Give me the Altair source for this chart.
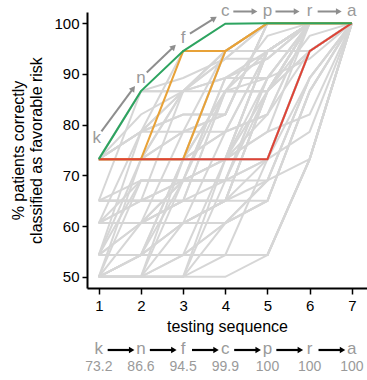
import math
import altair as alt
import pandas as pd

# testing positions and the cumulative % correctly classified along each ordering
steps = [1, 2, 3, 4, 5, 6, 7]

A, B, C, D, E = 50, 54.3, 60.6, 65, 69
K, L, M, N, O, P, Q, R, Z = 73.2, 78.6, 82, 86.6, 89.2, 93, 94.5, 97.5, 100

grey_paths = [
    [A, A, A, A, B, K, Z], [A, A, A, B, B, K, Z], [A, A, B, B, B, K, Z],
    [A, B, B, B, B, K, Z], [A, A, E, E, N, Q, Z], [A, E, E, N, Q, Z, Z],
    [A, A, A, E, K, Q, Z], [A, A, C, D, N, Z, Z], [A, C, D, D, N, Z, Z],
    [A, A, A, C, D, N, Z], [A, K, K, Q, Z, Z, Z], [A, A, K, Q, Q, Z, Z],
    [A, A, A, K, K, Q, Z], [A, B, K, K, Q, Z, Z],
    [A, B, C, D, K, Q, Z], [A, A, B, C, E, O, Z], [A, B, B, C, D, N, Z],
    [B, B, B, B, B, K, Z], [B, K, K, K, Q, Z, Z], [B, B, K, K, K, Q, Z],
    [B, B, B, K, Q, Z, Z], [B, B, B, B, K, Q, Z], [B, C, D, N, N, Z, Z],
    [B, B, C, D, N, Q, Z], [B, E, E, O, Q, Z, Z], [B, B, E, K, O, Z, Z],
    [B, L, N, Q, Z, Z, Z], [B, C, E, K, Q, Z, Z], [B, B, C, C, E, K, Z],
    [C, C, C, C, D, N, Z], [C, D, D, D, N, Z, Z], [C, C, D, N, N, Z, Z],
    [C, L, M, M, Z, Z, Z], [C, C, L, M, Z, Z, Z], [C, C, C, L, M, Z, Z],
    [C, E, E, E, O, Z, Z], [C, C, E, E, E, O, Z], [C, C, C, D, E, O, Z],
    [C, D, E, K, N, Z, Z],
    [D, D, D, D, D, N, Z], [D, N, N, P, Z, Z, Z], [D, D, N, P, P, Z, Z],
    [D, E, E, O, P, Z, Z], [D, D, D, E, O, P, Z], [D, D, E, E, K, O, Z],
    [K, L, L, Q, Z, Z, Z], [K, L, M, M, Z, Z, Z], [K, K, L, M, Z, Z, Z],
    [K, K, L, L, Q, Z, Z], [K, M, N, O, O, Z, Z], [K, N, O, P, Z, Z, Z],
    [K, K, N, O, P, Z, Z], [K, K, K, N, O, Z, Z], [K, K, K, L, M, Z, Z],
    [K, L, Q, Q, Q, Z, Z], [K, K, K, K, L, Z, Z], [K, K, K, K, L, M, Z],
    [K, K, K, K, K, L, Z], [K, N, N, Q, Q, Z, Z], [K, K, N, Q, Z, Z, Z],
    [K, K, K, L, Q, Q, Z], [K, K, K, K, M, Q, Z], [K, K, K, N, N, R, Z],
    [K, L, N, N, R, Z, Z],
]
orange_paths = [
    [73.2, 73.2, 94.5, 94.5, 100, 100, 100],
    [73.2, 73.2, 73.2, 94.5, 100, 100, 100],
]
red_paths = [[73.2, 73.2, 73.2, 73.2, 73.2, 94.5, 100]]
green_paths = [[73.2, 86.6, 94.5, 99.9, 100, 100, 100]]

seq_tests = ["k", "n", "f", "c", "p", "r", "a"]
seq_values = ["73.2", "86.6", "94.5", "99.9", "100", "100", "100"]
# how far each test letter sits above the best path (in % units)
label_lift = [4.2, 2.6, 2.6, 2.4, 2.3, 2.3, 2.3]
label_shift = [-0.05, 0, 0, 0, 0, 0, 0]

W, H = 280, 276
XDOM = (0.72, 7.36)
YDOM = (47.8, 102.2)


def to_px(x, y):
    return ((x - XDOM[0]) / (XDOM[1] - XDOM[0]) * W,
            (YDOM[1] - y) / (YDOM[1] - YDOM[0]) * H)


def to_data(px, py):
    return (XDOM[0] + px / W * (XDOM[1] - XDOM[0]),
            YDOM[1] - py / H * (YDOM[1] - YDOM[0]))


def long_form(paths, tag):
    rows = []
    for i, p in enumerate(paths):
        for s, v in zip(steps, p):
            rows.append({"path": f"{tag}{i}", "step": s, "pct": v})
    return pd.DataFrame(rows)


xs = alt.Scale(domain=list(XDOM), nice=False, zero=False)
ys = alt.Scale(domain=list(YDOM), nice=False, zero=False)

x_axis = alt.Axis(values=steps, title="testing sequence", grid=False,
                  labelFontSize=15, titleFontSize=16, tickSize=6,
                  labelPadding=4, titlePadding=5, labelFlush=False)
y_axis = alt.Axis(values=[50, 60, 70, 80, 90, 100], grid=False,
                  title=["% patients correctly", "classified as favorable risk"],
                  labelFontSize=15, titleFontSize=16, tickSize=5,
                  labelPadding=3, titlePadding=9, titleLineHeight=18)


def X(field):
    return alt.X(field, scale=xs, axis=x_axis)


def Y(field):
    return alt.Y(field, scale=ys, axis=y_axis)


def path_layer(paths, tag, color):
    return alt.Chart(long_form(paths, tag)).mark_line(
        color=color, strokeWidth=2, strokeJoin="miter"
    ).encode(x=X("step:Q"), y=Y("pct:Q"), detail="path:N")


grey = path_layer(grey_paths, "g", "#D6D6D6")
orange = path_layer(orange_paths, "o", "#E8A238")
red = path_layer(red_paths, "r", "#DE4437")
green = path_layer(green_paths, "b", "#2DA460")

# test letters along the best ordering
best = green_paths[0]
lab_x = [s + d for s, d in zip(steps, label_shift)]
lab_y = [min(v + l, 102.3) for v, l in zip(best, label_lift)]
top_labels = pd.DataFrame({"step": lab_x, "pct": lab_y, "t": seq_tests})
top_text = alt.Chart(top_labels).mark_text(
    fontSize=17, color="#9A9A9A", baseline="middle", align="center"
).encode(x=X("step:Q"), y=Y("pct:Q"), text="t:N")

# grey arrows linking consecutive letters
arr_rows, head_rows = [], []
for i in range(len(steps) - 1):
    x0, y0 = to_px(lab_x[i], lab_y[i])
    x1, y1 = to_px(lab_x[i + 1], lab_y[i + 1])
    d = math.hypot(x1 - x0, y1 - y0)
    ux, uy = (x1 - x0) / d, (y1 - y0) / d
    sx, sy = x0 + 8 * ux, y0 + 8 * uy
    hx, hy = x1 - 13 * ux, y1 - 13 * uy
    a, b = to_data(sx, sy)
    c, e = to_data(hx, hy)
    arr_rows.append({"step": a, "pct": b, "step2": c, "pct2": e})
    ang = math.degrees(math.atan2(uy, ux)) % 360
    head_rows.append({"step": c, "pct": e, "ang": ang})
arrows = alt.Chart(pd.DataFrame(arr_rows)).mark_rule(
    color="#8E8E8E", strokeWidth=2
).encode(x=X("step:Q"), y=Y("pct:Q"), x2="step2:Q", y2="pct2:Q")
heads = alt.Chart(pd.DataFrame(head_rows)).mark_point(
    shape="triangle-right", filled=True, color="#8E8E8E", size=45, opacity=1
).encode(x=X("step:Q"), y=Y("pct:Q"), angle=alt.Angle("ang:Q", scale=None))

# sequence summary under the axis
seq_df = pd.DataFrame({"step": steps, "t": seq_tests, "v": seq_values})
seq_letters = alt.Chart(seq_df).mark_text(
    fontSize=17, color="#9A9A9A", baseline="middle"
).encode(x=X("step:Q"), y=alt.value(337), text="t:N")
seq_vals = alt.Chart(seq_df).mark_text(
    fontSize=14, color="#9A9A9A", baseline="middle"
).encode(x=X("step:Q"), y=alt.value(355), text="v:N")

link_df = pd.DataFrame({"step": [s + 0.21 for s in steps[:-1]],
                        "step2": [s + 0.74 for s in steps[:-1]],
                        "tip": [s + 0.78 for s in steps[:-1]]})
seq_links = alt.Chart(link_df).mark_rule(color="black", strokeWidth=2.2).encode(
    x=X("step:Q"), x2="step2:Q", y=alt.value(338))
seq_heads = alt.Chart(link_df).mark_point(
    shape="triangle-right", filled=True, color="black", size=40, opacity=1
).encode(x=X("tip:Q"), y=alt.value(338))

chart = alt.layer(
    grey, orange, red, green, arrows, heads, top_text,
    seq_links, seq_heads, seq_letters, seq_vals
).properties(
    width=W, height=H,
    autosize=alt.AutoSizeParams(type="none"),
    padding={"left": 87, "top": 12, "right": 0, "bottom": 92},
).configure_view(stroke=None).configure_axis(
    domainColor="black", domainWidth=2, tickColor="black", tickWidth=1.5,
    labelColor="black", titleColor="black", titleFontWeight="normal",
    labelFont="Liberation Sans", titleFont="Liberation Sans",
).configure_text(font="Liberation Sans")

chart.save("out.html", embed_options={"renderer": "svg", "actions": False})
